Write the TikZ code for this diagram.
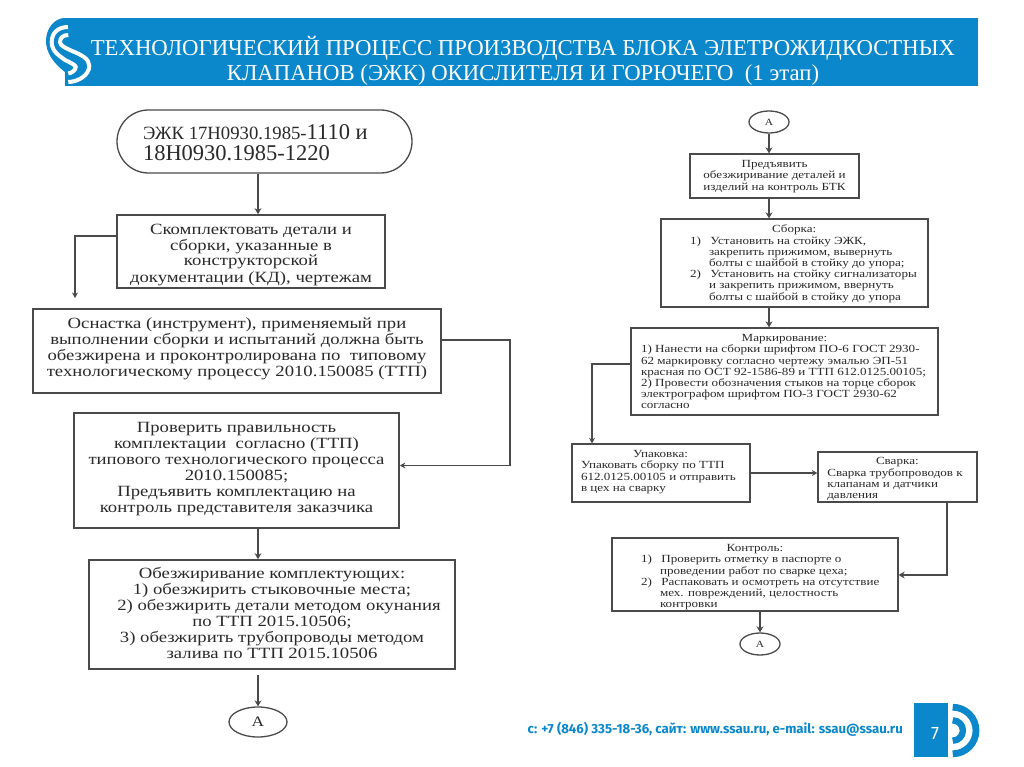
\documentclass[tikz,border=0pt]{standalone}
\usepackage{fontspec}
\setmainfont{Liberation Serif}
\newfontfamily\footfont{Fira Sans}
\newfontfamily\wideserif[FakeStretch=1.2]{Liberation Serif}
\usetikzlibrary{shapes.misc,shapes.geometric,arrows.meta}
\definecolor{ssaublue}{HTML}{0B87CC}
\definecolor{ink}{HTML}{2A2A2A}
\definecolor{edge}{HTML}{4A4A4A}
\newcommand\ctxt[3]{\raisebox{\dimexpr-#2pt-0.25em-2pt\relax}[0pt][0pt]{\makebox[0pt][c]{\hspace*{#1pt}\hspace*{#1pt}\begin{tabular}[c]{@{}c@{}}#3\end{tabular}}}}
\newcommand\ltxt[3]{\raisebox{\dimexpr-#2pt-0.25em-2pt\relax}[0pt][0pt]{\makebox[0pt][l]{\hspace*{#1pt}\begin{tabular}[c]{@{}l@{}}#3\end{tabular}}}}
\tikzset{
  bigbox/.style={draw=edge,line width=1.7pt,fill=white,text=ink,inner sep=0pt,font=\wideserif\fontsize{15.6}{16}\selectfont},
  smallbox/.style={draw=edge,line width=1.3pt,fill=white,text=ink,inner sep=0pt,font=\wideserif\fontsize{10.9}{11.2}\selectfont},
  arr/.style={draw=edge,line width=1.6pt,-{Stealth[length=6pt,width=7pt]}},
  thin arr/.style={draw=edge,line width=1.1pt,-{Stealth[length=5.5pt,width=6pt]}},
  conn/.style={ellipse,draw=edge,line width=1.3pt,fill=white,text=ink,inner sep=0pt},
  footer/.style={text=ssaublue,inner sep=0pt,font=\footfont\bfseries\fontsize{13.2}{14}\selectfont},
}
\begin{document}
\begin{tikzpicture}[x=1pt,y=-1pt]
\useasboundingbox (0,0) rectangle (1024,767);
\fill[white] (0,0) rectangle (1024,767);
% banner
\fill[ssaublue] (65,18) rectangle (978,86);
% logo
\fill[ssaublue] (65,18) .. controls (54,18) and (46,29) .. (46,41) .. controls (46,52) and (53,63) .. (65,72) -- cycle;
\draw[white,line width=4pt] (68,27) .. controls (58,27) and (51.7,33) .. (51.7,42) .. controls (51.7,52) and (60,56) .. (65,60) .. controls (71,63) and (75.7,65) .. (75.7,67) .. controls (75.7,70) and (72,73) .. (68.3,73.5);
\draw[white,line width=4pt] (68.3,35) .. controls (63,35) and (60,38) .. (60,42) .. controls (60,46) and (66,48) .. (72,51) .. controls (82,55) and (89.3,59) .. (89.3,66) .. controls (89.3,75) and (78,82) .. (68.3,82);
\node[text=white,inner sep=0pt,align=center,font=\fontsize{22.75}{24.5}\selectfont] (title) at (523,61)
 {ТЕХНОЛОГИЧЕСКИЙ ПРОЦЕСС ПРОИЗВОДСТВА БЛОКА ЭЛЕТРОЖИДКОСТНЫХ\\КЛАПАНОВ (ЭЖК) ОКИСЛИТЕЛЯ И ГОРЮЧЕГО\ \ (1 этап)};
% named guide coordinates
\coordinate (ax1) at (258,0);
\coordinate (ya) at (0,236);
\coordinate (e1) at (75,298);
\coordinate (yb) at (0,340);
\coordinate (xr) at (510,0);
\coordinate (yc) at (0,465.5);
\coordinate (s4) at (258,675);
% left column
\node[rounded rectangle,draw=edge,line width=1.3pt,fill=white,text=ink,inner sep=0pt,minimum width=295pt,minimum height=63pt,font=\fontsize{22.5}{20}\selectfont] (term) at (264.5,141.5)
 {\ltxt{-121.5}{1.5}{{\fontsize{18.7}{20}\selectfont ЭЖК 17Н0930.1985-}1110 и\\18Н0930.1985-1220}};
\node[bigbox,minimum width=268pt,minimum height=73pt] (b1) at (251,251.5)
 {\ctxt{0}{1}{Скомплектовать детали и\\сборки, указанные в\\конструкторской\\документации (КД), чертежам}};
\node[bigbox,minimum width=408pt,minimum height=84pt] (b2) at (237,351)
 {\ctxt{0}{-4.5}{Оснастка (инструмент), применяемый при\\выполнении сборки и испытаний должна быть\\обезжирена и проконтролирована по\ \ типовому\\технологическому процессу 2010.150085 (ТТП)}};
\node[bigbox,minimum width=325pt,minimum height=115pt] (b3) at (236.5,470.5)
 {\ctxt{0}{-3.7}{Проверить правильность\\комплектации\ \ согласно (ТТП)\\типового технологического процесса\\2010.150085;\\Предъявить комплектацию на\\контроль представителя заказчика}};
\node[bigbox,minimum width=366pt,minimum height=109pt] (b4) at (272,614.5)
 {\ctxt{0}{-1.2}{Обезжиривание комплектующих:\\1) обезжирить стыковочные места;\\\hspace*{14pt}2) обезжирить детали методом окунания\\по ТТП 2015.10506;\\3) обезжирить трубопроводы методом\\залива по ТТП 2015.10506}};
\node[conn,minimum width=58pt,minimum height=30pt,font=\wideserif\fontsize{14.5}{16}\selectfont] (a1) at (258,722) {А};
% right column
\node[smallbox,minimum width=169pt,minimum height=44pt] (r1) at (774.5,176)
 {\ctxt{0}{-1.3}{Предъявить\\обезжиривание деталей и\\изделий на контроль БТК}};
\node[conn,minimum width=40pt,minimum height=22pt,font=\wideserif\fontsize{9.5}{11}\selectfont] (a2) at (769,122) {А};
\node[smallbox,minimum width=267pt,minimum height=88pt] (r2) at (794.5,263)
 {\ltxt{-104.5}{-0.7}{\hspace*{82pt}Сборка:\\1)\hspace*{9.5pt}Установить на стойку ЭЖК,\\\hspace*{19pt}закрепить прижимом, вывернуть\\\hspace*{19pt}болты с шайбой в стойку до упора;\\2)\hspace*{9.5pt}Установить на стойку сигнализаторы\\\hspace*{19pt}и закрепить прижимом, ввернуть\\\hspace*{19pt}болты с шайбой в стойку до упора}};
\node[smallbox,minimum width=307pt,minimum height=87pt] (r3) at (784.5,371.5)
 {\ltxt{-143.5}{-0.5}{\hspace*{100.7pt}Маркирование:\\1) Нанести на сборки шрифтом ПО-6 ГОСТ 2930-\\62 маркировку согласно чертежу эмалью ЭП-51\\красная по ОСТ 92-1586-89 и ТТП 612.0125.00105;\\2) Провести обозначения стыков на торце сборок\\электрографом шрифтом ПО-3 ГОСТ 2930-62\\согласно}};
\node[smallbox,minimum width=178pt,minimum height=58pt] (r4) at (661,473)
 {\ltxt{-80}{-2.7}{\hspace*{52pt}Упаковка:\\Упаковать сборку по ТТП\\612.0125.00105 и отправить\\в цех на сварку}};
\node[smallbox,minimum width=159pt,minimum height=50pt] (r5) at (897.5,477)
 {\ltxt{-70.2}{0.5}{\hspace*{48.7pt}Сварка:\\Сварка трубопроводов к\\клапанам и датчики\\давления}};
\node[smallbox,minimum width=286pt,minimum height=73pt] (r6) at (755,574.5)
 {\ltxt{-114}{1}{\hspace*{85.7pt}Контроль:\\1)\hspace*{9.5pt}Проверить отметку в паспорте о\\\hspace*{19pt}проведении работ по сварке цеха;\\2)\hspace*{9.5pt}Распаковать и осмотреть на отсутствие\\\hspace*{19pt}мех. повреждений, целостность\\\hspace*{19pt}контровки}};
\node[conn,minimum width=40pt,minimum height=22pt,font=\wideserif\fontsize{9.5}{11}\selectfont] (a3) at (760,644) {А};
% guide coordinates for right column
\coordinate (ax2) at (769,0);
\coordinate (y3) at (0,364);
\coordinate (x3) at (592,0);
\coordinate (y4) at (0,473);
\coordinate (x5) at (947,0);
\coordinate (y6) at (0,575);
% connectors left
\draw[arr] (term.south -| ax1) -- (b1.north -| ax1);
\draw[thin arr] (b1.west |- ya) -| (e1);
\draw[thin arr] (b2.east |- yb) -- (xr |- yb) -- (xr |- yc) -- (b3.east |- yc);
\draw[arr] (b3.south -| ax1) -- (b4.north -| ax1);
\draw[arr] (s4) -- (a1.north);
% connectors right
\draw[arr] (a2.south) -- (r1.north -| a2.south);
\draw[arr] (r1.south -| ax2) -- (r2.north -| ax2);
\draw[arr] (r2.south -| ax2) -- (r3.north -| ax2);
\draw[thin arr] (r3.west |- y3) -- (x3 |- y3) -- (r4.north -| x3);
\draw[thin arr] (r4.east |- y4) -- (r5.west |- y4);
\draw[arr] (r5.south -| x5) -- (x5 |- y6) -- (r6.east |- y6);
\draw[arr] (r6.south -| a3.north) -- (a3.north);
% footer
\node[footer,anchor=east] (foot) at (903,729) {с: +7 (846) 335-18-36, сайт: www.ssau.ru, e-mail: ssau@ssau.ru};
\fill[ssaublue] (914,703) rectangle (948,757);
\node[text=white,inner sep=0pt,font=\footfont\fontsize{18}{18}\selectfont] (pg) at (935,734) {7};
\draw[ssaublue,line width=6.8pt] (952.7,707.2) arc[start angle=-90,end angle=90,radius=23.3];
\draw[ssaublue,line width=6.4pt] (952.7,720.3) arc[start angle=-90,end angle=90,radius=10.2];
\end{tikzpicture}
\end{document}
